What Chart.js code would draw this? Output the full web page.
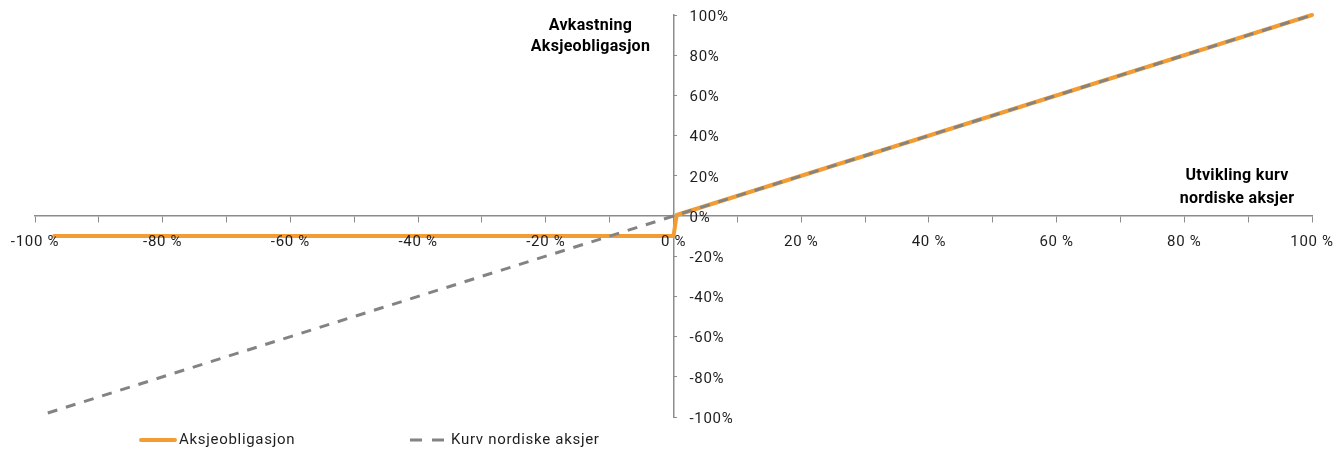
<!DOCTYPE html>
<html>
<head>
<meta charset="utf-8">
<script src="https://cdn.jsdelivr.net/npm/chart.js@4.4.0/dist/chart.umd.min.js"></script>
<style>
    html, body { margin: 0; padding: 0; background: #fff; }
    #wrap { width: 1343px; height: 450px; position: relative; }
</style>
</head>
<body>
<div id="wrap"><canvas id="chartCanvas"></canvas></div>
<script>
// series data (percent)
const seriesNames = ['Aksjeobligasjon', 'Kurv nordiske aksjer'];
const bondX = [-97, 0, 0.5, 100];
const bondY = [-10, -10, 0.5, 100];
const basketX = [-98, 100];
const basketY = [-98, 100];

// tick labels
const xLabels = [-100, -80, -60, -40, -20, 0, 20, 40, 60, 80, 100];
const yLabels = [100, 80, 60, 40, 20, 0, -20, -40, -60, -80, -100];

// axis titles
const xTitle = ['Utvikling kurv', 'nordiske aksjer'];
const yTitle = ['Avkastning', 'Aksjeobligasjon'];

const orange = '#F39C34';
const grey = '#838383';
const axisGrey = '#8c8c8c';

function toPoints(xs, ys) {
    return xs.map((x, i) => ({ x: x, y: ys[i] }));
}

// draws tick labels, axis titles and the legend on top of the lines
const axisText = {
    id: 'axisText',
    afterDraw(chart) {
        const ctx = chart.ctx;
        const xs = chart.scales.x;
        const ys = chart.scales.y;
        const x0 = xs.getPixelForValue(0);
        const y0 = ys.getPixelForValue(0);
        ctx.save();
        ctx.fillStyle = '#1e1e1e';
        ctx.font = '15px Roboto';
        ctx.letterSpacing = '0.7px';
        ctx.textBaseline = 'middle';
        ctx.textAlign = 'center';
        xLabels.forEach(v => ctx.fillText(v + ' %', xs.getPixelForValue(v), y0 + 26));
        ctx.textAlign = 'left';
        yLabels.forEach(v => ctx.fillText(v + '%', x0 + 16, ys.getPixelForValue(v) + 2));

        ctx.fillStyle = '#000';
        ctx.font = 'bold 16px Roboto';
        ctx.letterSpacing = '0.3px';
        ctx.textAlign = 'center';
        const top = ys.getPixelForValue(100);
        ctx.fillText(yTitle[0], x0 - 83, top + 11);
        ctx.fillText(yTitle[1], x0 - 83, top + 32);
        const right = xs.getPixelForValue(100);
        ctx.fillText(xTitle[0], right - 75, y0 - 40);
        ctx.fillText(xTitle[1], right - 75, y0 - 17);

        // legend
        const ly = 440;
        ctx.lineWidth = 4;
        ctx.strokeStyle = orange;
        ctx.lineCap = 'round';
        ctx.beginPath();
        ctx.moveTo(141, ly);
        ctx.lineTo(175, ly);
        ctx.stroke();
        ctx.lineWidth = 3;
        ctx.lineCap = 'butt';
        ctx.strokeStyle = grey;
        ctx.beginPath();
        ctx.moveTo(410, ly);
        ctx.lineTo(422, ly);
        ctx.moveTo(432, ly);
        ctx.lineTo(444, ly);
        ctx.stroke();
        ctx.font = '15px Roboto';
        ctx.letterSpacing = '0.7px';
        ctx.textAlign = 'left';
        ctx.fillStyle = '#1e1e1e';
        ctx.fillText(seriesNames[0], 179, ly);
        ctx.fillText(seriesNames[1], 451, ly);
        ctx.restore();
    }
};

const ctx = document.getElementById('chartCanvas').getContext('2d');
new Chart(ctx, {
    type: 'line',
    data: {
        datasets: [
            {
                label: seriesNames[0],
                data: toPoints(bondX, bondY),
                borderColor: orange,
                borderWidth: 4,
                borderCapStyle: 'round',
                borderJoinStyle: 'round',
                pointRadius: 0,
                tension: 0,
                fill: false,
                clip: 6,
                order: 1
            },
            {
                label: seriesNames[1],
                data: toPoints(basketX, basketY),
                borderColor: grey,
                borderWidth: 3,
                borderDash: [10, 9],
                pointRadius: 0,
                tension: 0,
                fill: false,
                clip: 6,
                order: 0
            }
        ]
    },
    options: {
        responsive: true,
        maintainAspectRatio: false,
        animation: false,
        layout: { padding: { left: 35, right: 31, top: 15, bottom: 33 } },
        plugins: {
            legend: { display: false },
            tooltip: { enabled: false }
        },
        scales: {
            x: {
                type: 'linear',
                min: -100,
                max: 100,
                position: { y: 0 },
                ticks: { stepSize: 10, display: false },
                grid: { drawOnChartArea: false, drawTicks: true, tickLength: 6, color: axisGrey, lineWidth: 1 },
                border: { color: axisGrey, width: 1.5 },
                afterFit: function(scale) { scale.height = 0; }
            },
            y: {
                type: 'linear',
                min: -100,
                max: 100,
                position: { x: 0 },
                ticks: { stepSize: 20, display: false },
                grid: { drawOnChartArea: false, drawTicks: true, tickLength: -4, color: axisGrey, lineWidth: 1 },
                border: { color: axisGrey, width: 1.5 },
                afterFit: function(scale) { scale.width = 0; }
            }
        }
    },
    plugins: [axisText]
});
</script>
</body>
</html>
